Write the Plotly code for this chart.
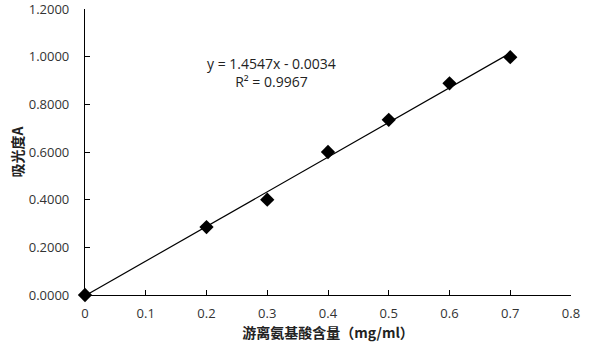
import numpy as np
import plotly.graph_objects as go

conc = [0, 0.2, 0.3, 0.4, 0.5, 0.6, 0.7]
absorb = [0.0, 0.285, 0.400, 0.600, 0.735, 0.888, 0.998]
slope = 1.4547
intercept = -0.0034
eq_text = "y = 1.4547x - 0.0034<br>R² = 0.9967"
x_ticks = [0, 0.1, 0.2, 0.3, 0.4, 0.5, 0.6, 0.7, 0.8]
y_ticks = [0, 0.2, 0.4, 0.6, 0.8, 1.0, 1.2]

fx = np.array([min(conc), max(conc)])
fy = slope * fx + intercept

fig = go.Figure()
fig.add_trace(go.Scatter(x=fx, y=fy, mode="lines", line=dict(color="black", width=1.2),
                         showlegend=False, hoverinfo="skip"))
fig.add_trace(go.Scatter(x=conc, y=absorb, mode="markers",
                         marker=dict(symbol="diamond", size=11, color="black"),
                         showlegend=False, cliponaxis=False))
fig.add_annotation(x=0.307, y=0.933, xref="x", yref="y", text=eq_text, showarrow=False,
                   font=dict(family="Open Sans, sans-serif", size=14, color="#222"),
                   align="center")
fig.update_layout(
    width=600, height=346, margin=dict(l=85, r=29, t=9, b=51),
    paper_bgcolor="white", plot_bgcolor="white",
    font=dict(family="Open Sans, sans-serif", size=13, color="#333"),
    xaxis=dict(range=[0, 0.8000001], tickvals=x_ticks, ticktext=[f"{v:g}" for v in x_ticks],
               showgrid=False, zeroline=False, showline=True, linecolor="black", linewidth=1.2,
               ticks="inside", ticklen=5, tickcolor="black", ticklabelstandoff=6,
               automargin=False, ticklabeloverflow="allow",
               title=dict(text="<b>游离氨基酸含量（mg/ml）</b>", standoff=3,
                          font=dict(family="Noto Sans CJK SC", size=14, color="#222"))),
    yaxis=dict(range=[0, 1.2000001], tickvals=y_ticks, ticktext=[f"{v:.4f}" for v in y_ticks],
               showgrid=False, zeroline=False, showline=True, linecolor="black", linewidth=1.2,
               ticks="inside", ticklen=5, tickcolor="black", ticklabelstandoff=12,
               automargin=False, ticklabeloverflow="allow",
               title=dict(text="<b>吸光度A</b>", standoff=1,
                          font=dict(family="Noto Sans CJK SC", size=14, color="#222"))),
)
fig.write_html("out.html")
